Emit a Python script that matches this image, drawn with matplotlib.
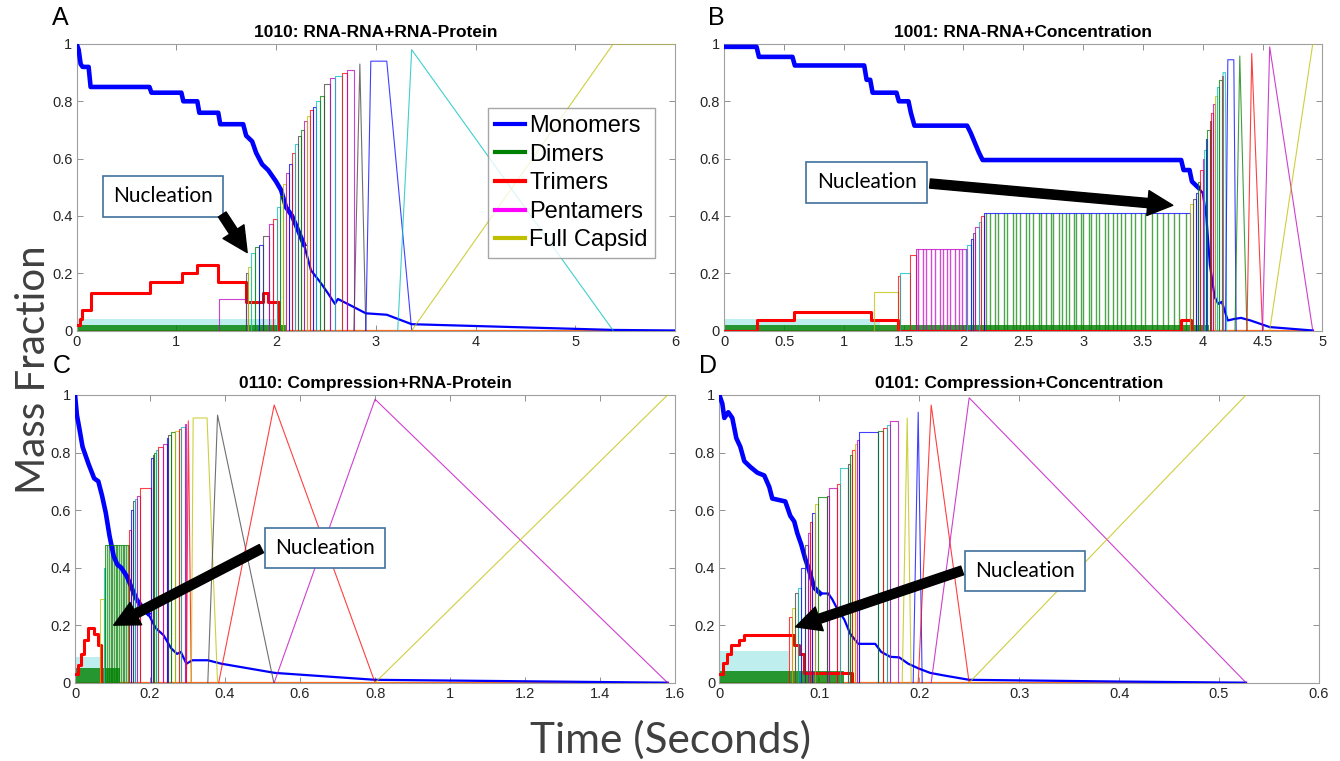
import matplotlib.pyplot as plt
from matplotlib.lines import Line2D
from matplotlib.ticker import FuncFormatter

plt.rcParams['font.family'] = ['Liberation Sans', 'DejaVu Sans']

# MATLAB style colour letters
MC = {'b': (0, 0, 1), 'g': (0, 0.5, 0), 'r': (1, 0, 0), 'c': (0, 0.75, 0.75),
      'm': (0.75, 0, 0.75), 'y': (0.75, 0.75, 0), 'k': (0.25, 0.25, 0.25)}

legend_labels = ['Monomers', 'Dimers', 'Trimers', 'Pentamers', 'Full Capsid']

# ---------------- A: 1010 RNA-RNA+RNA-Protein ----------------
a_title = '1010: RNA-RNA+RNA-Protein'
a_noisy_t = [0, 0.02, 0.04, 0.06, 0.12, 0.14, 0.73, 0.75, 1.05, 1.07, 1.21, 1.23, 1.42, 1.44,
             1.67, 1.70, 1.76, 1.80, 1.86, 1.92, 2.00, 2.05, 2.10, 2.16, 2.22, 2.28]
a_noisy_v = [1.0, 0.98, 0.93, 0.92, 0.92, 0.85, 0.85, 0.83, 0.83, 0.80, 0.80, 0.76, 0.76, 0.72,
             0.72, 0.68, 0.66, 0.62, 0.58, 0.56, 0.52, 0.49, 0.43, 0.40, 0.35, 0.30]
a_mono_t = [2.28, 2.35, 2.44, 2.52, 2.59, 2.62, 2.75, 2.90, 3.11, 3.36, 5.38, 6.0]
a_mono_v = [0.30, 0.21, 0.17, 0.13, 0.093, 0.11, 0.087, 0.06, 0.055, 0.022, 0.002, 0.0]
a_tri_t = [0, 0.03, 0.05, 0.14, 0.74, 1.06, 1.21, 1.42, 1.70, 1.87, 1.92, 2.03]
a_tri_v = [0.02, 0.04, 0.07, 0.13, 0.17, 0.20, 0.23, 0.17, 0.10, 0.13, 0.10, 0.0]
a_grow_t = [1.43, 1.70, 1.72, 1.75, 1.79, 1.83, 1.87, 1.93, 1.97, 2.01, 2.04, 2.07, 2.10, 2.13,
            2.16, 2.19, 2.22, 2.25, 2.28, 2.31, 2.34, 2.37, 2.40, 2.44, 2.48, 2.54, 2.59, 2.66, 2.71]
a_grow_h = [0.11, 0.20, 0.22, 0.27, 0.29, 0.30, 0.33, 0.37, 0.39, 0.43, 0.47, 0.51, 0.55, 0.58,
            0.62, 0.65, 0.68, 0.70, 0.73, 0.75, 0.77, 0.78, 0.80, 0.82, 0.86, 0.88, 0.89, 0.90, 0.91]
a_grow_c = 'mkycgbkmrcgymbrckgmyrbcgkmcrm'
a_grow_end = 2.78
a_tail_x = [[2.78, 2.84, 2.84, 2.90], [2.90, 2.95, 3.11, 3.36], [3.22, 3.36, 3.36, 5.38]]
a_tail_h = [0.93, 0.94, 0.98]
a_tail_c = 'kbc'
a_cap_t = [3.36, 5.38, 6.0]
a_cap_v = [0, 1.0, 1.0]
a_band_t = [2.0, 2.1]
a_band_h = [0.04, 0.02]
a_band_c = 'cg'
a_flick_t = []
a_flick_h = 0
a_flick_c = 'g'
a_end = 6.0
a_xticks = [0, 1, 2, 3, 4, 5, 6]

# ---------------- B: 1001 RNA-RNA+Concentration ----------------
b_title = '1001: RNA-RNA+Concentration'
b_noisy_t = [0, 0.27, 0.29, 0.57, 0.59, 1.17, 1.19, 1.22, 1.24, 1.44, 1.46, 1.54, 1.56, 1.59,
             2.03, 2.06, 2.10, 2.13, 2.16, 3.82, 3.84, 3.89, 3.91, 3.96]
b_noisy_v = [0.99, 0.99, 0.955, 0.955, 0.925, 0.925, 0.875, 0.875, 0.83, 0.83, 0.80, 0.80, 0.76,
             0.715, 0.715, 0.69, 0.65, 0.62, 0.595, 0.595, 0.56, 0.56, 0.52, 0.50]
b_mono_t = [3.96, 4.00, 4.03, 4.06, 4.10, 4.13, 4.16, 4.21, 4.26, 4.32, 4.40, 4.56, 4.92]
b_mono_v = [0.50, 0.48, 0.40, 0.23, 0.117, 0.093, 0.10, 0.035, 0.04, 0.044, 0.035, 0.012, 0.0]
b_tri_t = [0, 0.27, 0.58, 1.23, 1.45, 3.82, 3.90]
b_tri_v = [0.0, 0.035, 0.065, 0.035, 0.0, 0.035, 0.0]
b_grow_t = [1.25, 1.45, 1.47, 1.55, 1.60, 2.03, 2.06, 2.08, 2.10, 2.13, 2.15, 2.17, 3.89, 3.92,
            3.94, 3.96, 3.98, 4.00, 4.01, 4.03, 4.04, 4.06, 4.07, 4.09, 4.10, 4.12, 4.14, 4.16]
b_grow_h = [0.135, 0.19, 0.20, 0.265, 0.285, 0.30, 0.32, 0.34, 0.36, 0.38, 0.40, 0.41, 0.44, 0.46,
            0.48, 0.52, 0.56, 0.60, 0.63, 0.67, 0.70, 0.73, 0.76, 0.79, 0.82, 0.85, 0.875, 0.89]
b_grow_c = 'yrcrmcbkmcrbykbgrmcbgkrmycgr'
b_grow_end = 4.17
b_tail_x = [[4.17, 4.17, 4.19, 4.20], [4.19, 4.21, 4.26, 4.28], [4.27, 4.31, 4.31, 4.37],
            [4.37, 4.41, 4.41, 4.50], [4.50, 4.56, 4.56, 4.92]]
b_tail_h = [0.90, 0.945, 0.958, 0.967, 0.99]
b_tail_c = 'cbgrm'
b_cap_t = [4.56, 4.92]
b_cap_v = [0, 1.0]
b_band_t = [1.3, 4.05]
b_band_h = [0.04, 0.02]
b_band_c = 'cg'
b_flick_t = [2.19, 2.22, 2.26, 2.29, 2.34, 2.36, 2.41, 2.44, 2.47, 2.52, 2.55, 2.58, 2.63, 2.65,
             2.69, 2.73, 2.75, 2.80, 2.82, 2.86, 2.88, 2.92, 2.94, 2.98, 3.00, 3.05, 3.07, 3.11,
             3.13, 3.18, 3.21, 3.25, 3.28, 3.32, 3.35, 3.40, 3.43, 3.48, 3.52, 3.58, 3.62, 3.67,
             3.71, 3.76, 3.80, 3.86]
b_flick_h = 0.41
b_flick_c = 'g'
b_mflick_t = [1.62, 1.66, 1.69, 1.73, 1.76, 1.80, 1.83, 1.86, 1.89, 1.93, 1.96, 1.99, 2.02]
b_mflick_h = 0.285
b_end = 4.92
b_xticks = [0, 0.5, 1, 1.5, 2, 2.5, 3, 3.5, 4, 4.5, 5]

# ---------------- C: 0110 Compression+RNA-Protein ----------------
c_title = '0110: Compression+RNA-Protein'
c_noisy_t = [0, 0.005, 0.012, 0.020, 0.036, 0.051, 0.062, 0.072, 0.082, 0.092, 0.103, 0.113,
             0.123, 0.138, 0.154, 0.164, 0.180, 0.195]
c_noisy_v = [1.0, 0.93, 0.88, 0.82, 0.76, 0.71, 0.70, 0.65, 0.59, 0.51, 0.44, 0.41,
             0.40, 0.37, 0.32, 0.29, 0.26, 0.24]
c_mono_t = [0.195, 0.215, 0.236, 0.256, 0.272, 0.282, 0.297, 0.313, 0.354, 0.390, 0.533, 0.800, 1.58]
c_mono_v = [0.24, 0.19, 0.165, 0.12, 0.10, 0.107, 0.066, 0.078, 0.078, 0.066, 0.034, 0.010, 0.0]
c_tri_t = [0, 0.008, 0.015, 0.025, 0.035, 0.050, 0.060, 0.068]
c_tri_v = [0.03, 0.06, 0.10, 0.15, 0.19, 0.17, 0.13, 0.0]
c_grow_t = [0.067, 0.077, 0.080, 0.144, 0.149, 0.154, 0.159, 0.164, 0.172, 0.202, 0.207, 0.211,
            0.215, 0.220, 0.234, 0.244, 0.249, 0.256, 0.267, 0.276, 0.282, 0.292]
c_grow_h = [0.29, 0.40, 0.48, 0.53, 0.60, 0.63, 0.64, 0.65, 0.675, 0.78, 0.79, 0.80,
            0.81, 0.82, 0.83, 0.85, 0.86, 0.87, 0.875, 0.88, 0.89, 0.90]
c_grow_c = 'ycgrbkcmrbkgcrmbkgyrcm'
c_grow_end = 0.297
c_tail_x = [[0.297, 0.302, 0.302, 0.310], [0.310, 0.315, 0.352, 0.380], [0.354, 0.380, 0.380, 0.530],
            [0.383, 0.531, 0.531, 0.800], [0.531, 0.800, 0.800, 1.58]]
c_tail_h = [0.91, 0.92, 0.93, 0.965, 0.985]
c_tail_c = 'rykrm'
c_cap_t = [0.80, 1.58]
c_cap_v = [0, 1.0]
c_band_t = [0.07, 0.12]
c_band_h = [0.09, 0.05]
c_band_c = 'cg'
c_flick_t = [0.086, 0.091, 0.095, 0.099, 0.104, 0.108, 0.113, 0.118, 0.122, 0.127, 0.131, 0.136, 0.140]
c_flick_h = 0.48
c_flick_c = 'g'
c_end = 1.58
c_xticks = [0, 0.2, 0.4, 0.6, 0.8, 1, 1.2, 1.4, 1.6]

# ---------------- D: 0101 Compression+Concentration ----------------
d_title = '0101: Compression+Concentration'
d_noisy_t = [0, 0.003, 0.005, 0.009, 0.013, 0.017, 0.021, 0.025, 0.031, 0.038, 0.045, 0.050,
             0.053, 0.066, 0.071, 0.075, 0.078, 0.082, 0.086, 0.089, 0.095, 0.101]
d_noisy_v = [1.0, 0.97, 0.92, 0.94, 0.92, 0.85, 0.82, 0.77, 0.75, 0.73, 0.72, 0.68,
             0.64, 0.63, 0.58, 0.56, 0.52, 0.48, 0.43, 0.40, 0.33, 0.31]
d_mono_t = [0.101, 0.109, 0.113, 0.119, 0.125, 0.131, 0.139, 0.156, 0.162, 0.171, 0.180, 0.189,
            0.199, 0.211, 0.225, 0.250, 0.40, 0.527]
d_mono_v = [0.31, 0.31, 0.29, 0.25, 0.22, 0.17, 0.135, 0.135, 0.107, 0.09, 0.088, 0.066,
            0.05, 0.034, 0.025, 0.01, 0.004, 0.0]
d_tri_t = [0, 0.004, 0.008, 0.012, 0.016, 0.020, 0.025, 0.075, 0.080, 0.085, 0.133]
d_tri_v = [0.03, 0.07, 0.10, 0.13, 0.13, 0.15, 0.165, 0.13, 0.10, 0.035, 0.0]
d_grow_t = [0.070, 0.073, 0.076, 0.079, 0.082, 0.086, 0.089, 0.091, 0.093, 0.096, 0.099, 0.108,
            0.110, 0.118, 0.121, 0.129, 0.131, 0.133, 0.136, 0.138, 0.140, 0.159, 0.164, 0.168, 0.171]
d_grow_h = [0.23, 0.26, 0.31, 0.33, 0.40, 0.48, 0.52, 0.56, 0.59, 0.62, 0.645, 0.65,
            0.675, 0.69, 0.745, 0.76, 0.79, 0.81, 0.83, 0.845, 0.87, 0.875, 0.885, 0.895, 0.91]
d_grow_c = 'rykcbkmrbygkmrckgrymbgrcm'
d_grow_end = 0.179
d_tail_x = [[0.183, 0.188, 0.188, 0.192], [0.194, 0.199, 0.199, 0.203],
            [0.199, 0.212, 0.212, 0.250], [0.212, 0.250, 0.250, 0.527]]
d_tail_h = [0.92, 0.94, 0.965, 0.99]
d_tail_c = 'ybrm'
d_cap_t = [0.25, 0.527]
d_cap_v = [0, 1.0]
d_band_t = [0.07, 0.125]
d_band_h = [0.11, 0.04]
d_band_c = 'cg'
d_flick_t = []
d_flick_h = 0
d_flick_c = 'g'
d_end = 0.527
d_xticks = [0, 0.1, 0.2, 0.3, 0.4, 0.5, 0.6]

THIN = dict(lw=0.8, alpha=0.75)


def draw_panel(ax, title, noisy_t, noisy_v, mono_t, mono_v, tri_t, tri_v,
               grow_t, grow_h, grow_c, grow_end, tail_x, tail_h, tail_c,
               cap_t, cap_v, band_t, band_h, band_c, flick_t, flick_h, flick_c,
               end, xticks):
    # all species sitting at zero
    ax.plot([0, end], [0, 0], color=(1, 0.42, 0.1), lw=1.6, zorder=1)
    for t, h, c in zip(band_t, band_h, band_c):
        ax.fill_between([0, t], 0, h, color=MC[c], alpha=0.8 if c == 'g' else 0.25,
                        lw=0, zorder=2)
    ax.vlines(flick_t, 0, flick_h, colors=[MC[flick_c]], lw=1.0, alpha=0.7, zorder=2)

    # monomers
    ax.plot(noisy_t, noisy_v, color=MC['b'], lw=3.3, zorder=3)
    ax.plot(mono_t, mono_v, color=MC['b'], lw=1.6, zorder=3)

    # trimers
    ax.step(tri_t, tri_v, where='post', color=MC['r'], lw=2.2, zorder=4)

    # growing cluster: one plateau per size
    nxt = list(grow_t[1:]) + [grow_end]
    for t0, t1, h, c in zip(grow_t, nxt, grow_h, grow_c):
        ax.plot([t0, t0, t1, t1], [0, h, h, 0], color=MC[c], zorder=4, **THIN)
    for xs, h, c in zip(tail_x, tail_h, tail_c):
        ax.plot(xs, [0, h, h, 0], color=MC[c], zorder=4, **THIN)
    ax.plot(cap_t, cap_v, color=MC['y'], zorder=4, **THIN)

    ax.set_xlim(xticks[0], xticks[-1])
    ax.set_ylim(0, 1)
    ax.set_xticks(xticks)
    ax.set_yticks([0, 0.2, 0.4, 0.6, 0.8, 1])
    fmt = FuncFormatter(lambda v, p: '%g' % v)
    ax.xaxis.set_major_formatter(fmt)
    ax.yaxis.set_major_formatter(fmt)
    ax.tick_params(direction='in', top=True, right=True, length=4, width=0.6,
                   color='#808080', labelsize=10.5, labelcolor='#262626', pad=3)
    for s in ax.spines.values():
        s.set_color('#a0a0a0')
        s.set_linewidth(0.8)
    ax.set_title(title, fontsize=12.5, fontweight='bold', pad=5)


def nucleation(ax, text_xy, start, tip):
    ax.text(text_xy[0], text_xy[1], 'Nucleation', fontsize=15, family=['Lato', 'DejaVu Sans'],
            ha='center', va='center', zorder=10,
            bbox=dict(boxstyle='square,pad=0.5', fc='white', ec='#41719c', lw=1.2))
    ax.annotate('', xy=tip, xytext=start, zorder=10,
                arrowprops=dict(arrowstyle='simple,head_length=0.9,head_width=0.9,tail_width=0.33',
                                fc='k', ec='k', shrinkA=0, shrinkB=0, mutation_scale=20))


fig = plt.figure(figsize=(13.4, 7.61), dpi=100)
axA = fig.add_axes([0.0572, 0.5657, 0.4465, 0.3765])
axB = fig.add_axes([0.5405, 0.5657, 0.4463, 0.3765])
axC = fig.add_axes([0.0560, 0.1029, 0.4478, 0.3781])
axD = fig.add_axes([0.5368, 0.1029, 0.4475, 0.3781])

draw_panel(axA, a_title, a_noisy_t, a_noisy_v, a_mono_t, a_mono_v, a_tri_t, a_tri_v,
           a_grow_t, a_grow_h, a_grow_c, a_grow_end, a_tail_x, a_tail_h, a_tail_c,
           a_cap_t, a_cap_v, a_band_t, a_band_h, a_band_c, a_flick_t, a_flick_h, a_flick_c,
           a_end, a_xticks)
draw_panel(axB, b_title, b_noisy_t, b_noisy_v, b_mono_t, b_mono_v, b_tri_t, b_tri_v,
           b_grow_t, b_grow_h, b_grow_c, b_grow_end, b_tail_x, b_tail_h, b_tail_c,
           b_cap_t, b_cap_v, b_band_t, b_band_h, b_band_c, b_flick_t, b_flick_h, b_flick_c,
           b_end, b_xticks)
axB.vlines(b_mflick_t, 0, b_mflick_h, colors=[MC['m']], lw=1.0, alpha=0.7, zorder=2)
draw_panel(axC, c_title, c_noisy_t, c_noisy_v, c_mono_t, c_mono_v, c_tri_t, c_tri_v,
           c_grow_t, c_grow_h, c_grow_c, c_grow_end, c_tail_x, c_tail_h, c_tail_c,
           c_cap_t, c_cap_v, c_band_t, c_band_h, c_band_c, c_flick_t, c_flick_h, c_flick_c,
           c_end, c_xticks)
draw_panel(axD, d_title, d_noisy_t, d_noisy_v, d_mono_t, d_mono_v, d_tri_t, d_tri_v,
           d_grow_t, d_grow_h, d_grow_c, d_grow_end, d_tail_x, d_tail_h, d_tail_c,
           d_cap_t, d_cap_v, d_band_t, d_band_h, d_band_c, d_flick_t, d_flick_h, d_flick_c,
           d_end, d_xticks)

# legend in panel A
handles = [Line2D([], [], color=MC[c], lw=3) for c in 'bgr']
handles += [Line2D([], [], color=(1, 0, 1), lw=3), Line2D([], [], color=MC['y'], lw=3)]
leg = axA.legend(handles, legend_labels, loc='upper left', bbox_to_anchor=(0.687, 0.777),
                 fontsize=17, frameon=True, fancybox=False, edgecolor='#909090',
                 handlelength=1.3, handletextpad=0.15, labelspacing=0.28, borderpad=0.3,
                 borderaxespad=0)
leg.get_frame().set_linewidth(1.0)
leg.set_zorder(20)

nucleation(axA, (0.866, 0.469), (1.46, 0.405), (1.71, 0.272))
nucleation(axB, (1.19, 0.517), (1.72, 0.513), (3.75, 0.437))
nucleation(axC, (0.667, 0.468), (0.497, 0.466), (0.103, 0.200))
nucleation(axD, (0.306, 0.388), (0.243, 0.390), (0.0763, 0.194))

big = dict(family=['Lato', 'DejaVu Sans'], color='#404040', ha='center', va='center')
fig.text(0.025, 0.514, 'Mass Fraction', rotation=90, fontsize=29, **big)
fig.text(0.5, 0.0276, 'Time (Seconds)', fontsize=30.5, **big)

for lab, x, y in [('A', 0.0448, 0.9763), ('B', 0.5343, 0.9763), ('C', 0.0463, 0.519), ('D', 0.528, 0.519)]:
    fig.text(x, y, lab, fontsize=18, ha='center', va='center')

fig.savefig('out.png', dpi=100)
